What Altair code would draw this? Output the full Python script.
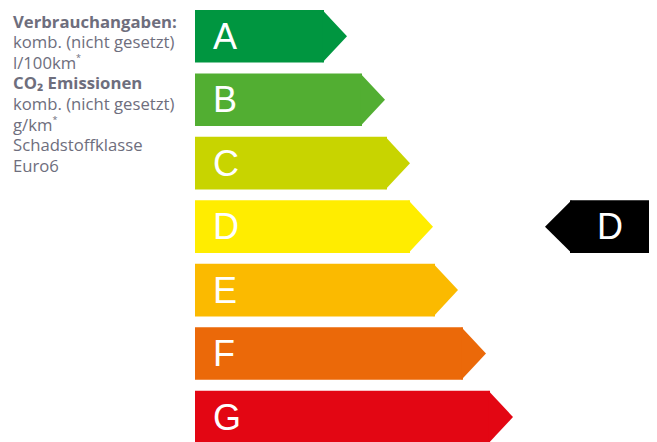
import altair as alt
import pandas as pd

# ---- data ----
classes = ["A", "B", "C", "D", "E", "F", "G"]
class_colors = ["#009640", "#52ae32", "#c8d400", "#ffed00", "#fbba00", "#eb6909", "#e30613"]
arrow_length = [152, 190, 215, 238, 263, 291, 318]      # length of each class arrow (to the tip)
current_class = "D"
indicator_span = [350, 457]                               # black indicator arrow: tip .. end
info_lines = ["Verbrauchangaben:", "komb. (nicht gesetzt)", "l/100km", "CO₂ Emissionen",
              "komb. (nicht gesetzt)", "g/km", "Schadstoffklasse", "Euro6"]
info_bold = [True, False, False, True, False, False, False, False]

# ---- geometry / style ----
W, H = 641, 434
TIP = 23            # arrow head length (x units == px)
IND_TIP = 25        # indicator head length
HH = 0.414          # half bar height (row units)
ROW_PX = 63.48
HALF_PX = HH * ROW_PX
text_color = "#6e6e7d"

xs = alt.Scale(domain=[-187, W - 187], nice=False, zero=False)
ys = alt.Scale(domain=[-0.444, -0.444 + H / ROW_PX], nice=False, zero=False, reverse=True)

n = len(classes)
df = pd.DataFrame({
    "cls": classes,
    "row": list(range(n)),
    "x0": [0] * n,
    "xr": [L - TIP for L in arrow_length],
})
df["y0"] = df["row"] - HH
df["y1"] = df["row"] + HH

color = alt.Color("cls:N", scale=alt.Scale(domain=classes, range=class_colors), legend=None)

bodies = alt.Chart(df).mark_rect().encode(
    x=alt.X("x0:Q", scale=xs, axis=None), x2="xr:Q",
    y=alt.Y("y0:Q", scale=ys, axis=None), y2="y1:Q",
    color=color,
)

tip_k = TIP / HALF_PX
tip_shape = f"M-0.06,-1L{tip_k:.3f},0L-0.06,1Z"
tip_size = (2 * HALF_PX) ** 2
tips = alt.Chart(df).mark_point(
    shape=tip_shape, size=tip_size, filled=True, opacity=1, strokeWidth=0
).encode(
    x=alt.X("xr:Q", scale=xs, axis=None),
    y=alt.Y("row:Q", scale=ys, axis=None),
    color=color,
)

letters = alt.Chart(df).mark_text(
    align="left", baseline="alphabetic", dx=18, dy=12.7, fontSize=36,
    font="Liberation Sans", color="white"
).encode(
    x=alt.X("x0:Q", scale=xs, axis=None),
    y=alt.Y("row:Q", scale=ys, axis=None),
    text="cls:N",
)

r = classes.index(current_class)
ind_df = pd.DataFrame({
    "t": [current_class], "row": [r],
    "xa": [indicator_span[0] + IND_TIP], "xb": [indicator_span[1]],
    "y0": [r - HH], "y1": [r + HH], "xt": [indicator_span[0]],
})
ind_body = alt.Chart(ind_df).mark_rect(color="black").encode(
    x=alt.X("xa:Q", scale=xs, axis=None), x2="xb:Q",
    y=alt.Y("y0:Q", scale=ys, axis=None), y2="y1:Q",
)
ind_k = IND_TIP / HALF_PX
ind_shape = f"M0.06,-1L{-ind_k:.3f},0L0.06,1Z"
ind_tip = alt.Chart(ind_df).mark_point(
    shape=ind_shape, size=tip_size, filled=True, opacity=1, strokeWidth=0, color="black"
).encode(
    x=alt.X("xa:Q", scale=xs, axis=None),
    y=alt.Y("row:Q", scale=ys, axis=None),
)
ind_letter = alt.Chart(ind_df).mark_text(
    align="left", baseline="alphabetic", dx=52, dy=12.7, fontSize=36,
    font="Liberation Sans", color="white"
).encode(
    x=alt.X("xt:Q", scale=xs, axis=None),
    y=alt.Y("row:Q", scale=ys, axis=None),
    text="t:N",
)

layers = [bodies, tips, letters, ind_body, ind_tip, ind_letter]

base_y = 19.5
step = 20.6
for k, (line, bold) in enumerate(zip(info_lines, info_bold)):
    layers.append(
        alt.Chart(pd.DataFrame({"t": [line]})).mark_text(
            align="left", baseline="alphabetic", fontSize=16.7, font="Open Sans",
            fontWeight="bold" if bold else "normal", color=text_color
        ).encode(x=alt.value(5), y=alt.value(base_y + step * k), text="t:N")
    )

# superscript asterisks
for xpos, line_idx in [(68, 2), (44.5, 5)]:
    layers.append(
        alt.Chart(pd.DataFrame({"t": ["*"]})).mark_text(
            align="left", baseline="alphabetic", fontSize=9, font="Open Sans", color=text_color
        ).encode(x=alt.value(xpos), y=alt.value(base_y + step * line_idx - 7.5), text="t:N")
    )

chart = alt.layer(*layers).properties(
    width=W, height=H, padding=0, autosize=alt.AutoSizeParams(type="none")
).configure_view(stroke=None)

chart.save("out.html", embed_options={"renderer": "svg", "actions": False})
